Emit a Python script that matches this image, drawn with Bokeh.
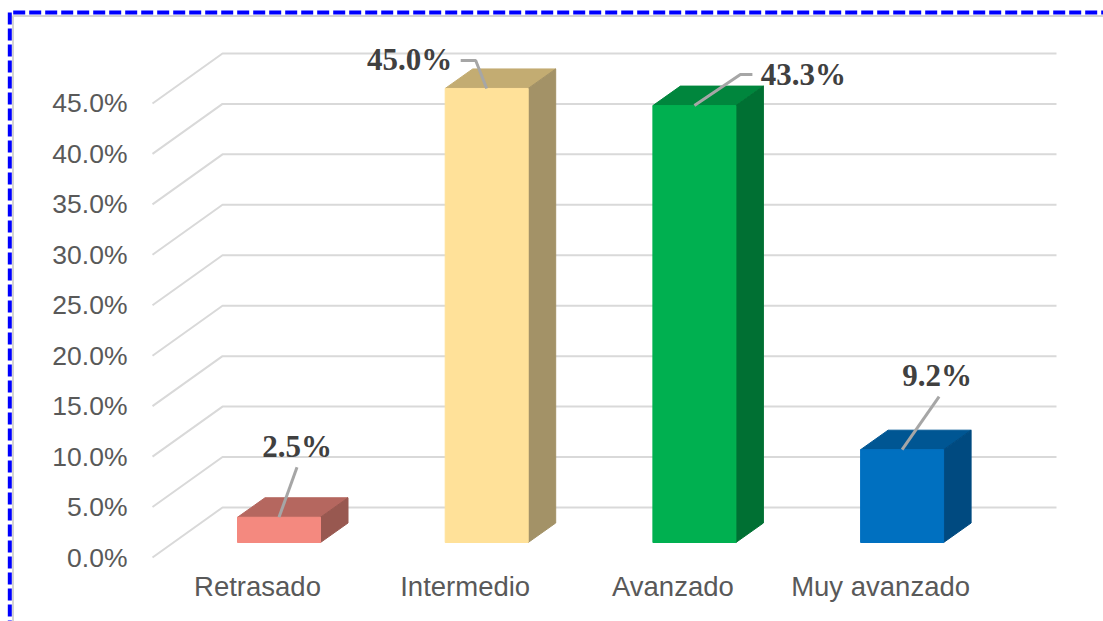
from bokeh.plotting import figure
from bokeh.embed import file_html
from bokeh.resources import INLINE
from bokeh.models import FixedTicker, PrintfTickFormatter, PolyAnnotation, Range1d
from bokeh.core.properties import value

categories = ["Retrasado", "Intermedio", "Avanzado", "Muy avanzado"]
percent = [2.5, 45.0, 43.3, 9.2]
labels = ["2.5%", "45.0%", "43.3%", "9.2%"]
y_ticks = [0, 5, 10, 15, 20, 25, 30, 35, 40, 45]
front = ["#f4897f", "#ffe199", "#00b050", "#0070c0"]
top = ["#b5675f", "#c3ac72", "#00863d", "#005693"]
side = ["#985850", "#a39267", "#007033", "#004a80"]

# geometry: pixels per data unit of the two scales
PX_X, PX_Y = 207.7, 10.09
WALL_DX, WALL_DY = 70 / PX_X, 50 / PX_Y
BAR_DX, BAR_DY = 27.5 / PX_X, 19.5 / PX_Y
BAR_SHIFT, BAR_HALF = 21.5 / PX_X, 41.5 / PX_X
FLOOR = 15 / PX_Y

W, H = 1103, 621
x_start, x_end = -257 / PX_X, (W - 257) / PX_X
y_start, y_end = (557 - H) / PX_Y, 557 / PX_Y
axis_x = (152 - 257) / PX_X
axis_y = (557 - 562) / PX_Y

p = figure(width=W, height=H, output_backend="svg", toolbar_location=None,
           x_range=Range1d(x_start, x_end), y_range=Range1d(y_start, y_end),
           min_border=0, background_fill_color="white", border_fill_color="white")
p.outline_line_color = None
p.grid.visible = False

for ax, size in ((p.xaxis[0], "27.5px"), (p.yaxis[0], "26.5px")):
    ax.axis_line_color = None
    ax.major_tick_line_color = None
    ax.minor_tick_line_color = None
    ax.major_label_text_font = "Liberation Sans"
    ax.major_label_text_color = "#595959"
    ax.major_label_text_font_size = size

p.yaxis[0].fixed_location = axis_x
p.xaxis[0].fixed_location = axis_y
p.yaxis[0].ticker = FixedTicker(ticks=y_ticks)
p.yaxis[0].formatter = PrintfTickFormatter(format="%.1f%%")
p.yaxis[0].major_label_standoff = 19
p.xaxis[0].ticker = FixedTicker(ticks=list(range(len(categories))))
p.xaxis[0].major_label_overrides = {i: c for i, c in enumerate(categories)}
p.xaxis[0].major_label_standoff = 2

# gridlines: floor-to-wall slant and back wall
wall_x = axis_x + WALL_DX
wall_end = (1056 - 257) / PX_X
p.multi_line([[axis_x, wall_x, wall_end] for _ in y_ticks],
             [[t, t + WALL_DY, t + WALL_DY] for t in y_ticks],
             line_color="#d9d9d9", line_width=2)

# 3D bars
for i, v in enumerate(percent):
    xl = i + BAR_SHIFT - BAR_HALF
    xr = i + BAR_SHIFT + BAR_HALF
    yb, yt = FLOOR, FLOOR + v
    p.patch([xl, xr, xr + BAR_DX, xl + BAR_DX], [yt, yt, yt + BAR_DY, yt + BAR_DY],
            fill_color=top[i], line_color=top[i], line_width=1)
    p.patch([xr, xr + BAR_DX, xr + BAR_DX, xr], [yb, yb + BAR_DY, yt + BAR_DY, yt],
            fill_color=side[i], line_color=side[i], line_width=1)
    p.quad(left=xl, right=xr, bottom=yb, top=yt, fill_color=front[i], line_color=front[i], line_width=1)

# leader lines: pixel offsets from each bar's top-front centre
leaders = [[(18, 50)], [(-11, 28), (-26, 28)], [(46, 31), (58, 31)], [(37, 53)]]
label_off = [(18, 71), (-77, 29), (109, 31), (35, 74)]
for i, v in enumerate(percent):
    bx, by = i + BAR_SHIFT, FLOOR + v
    xs = [bx] + [bx + dx / PX_X for dx, _ in leaders[i]]
    ys = [by] + [by + dy / PX_Y for _, dy in leaders[i]]
    p.line(xs, ys, line_color="#a6a6a6", line_width=3)
    p.text([bx + label_off[i][0] / PX_X], [by + label_off[i][1] / PX_Y], text=[labels[i]],
           text_font=value("Liberation Serif"), text_font_style="bold",
           text_font_size="31px", text_color="#404040",
           text_align="center", text_baseline="middle")

# page-level dashed frame (open to the right and bottom)
p.add_layout(PolyAnnotation(xs=[12.5, 12.5, 3000, 3000], ys=[H - 15.5, -3000, -3000, H - 15.5],
                            xs_units="screen", ys_units="screen", fill_alpha=0, line_alpha=1,
                            line_color="#d4d4d4", line_width=2))
p.add_layout(PolyAnnotation(xs=[9.3, 9.3, 3000, 3000], ys=[H - 12, -3000, -3000, H - 12],
                            xs_units="screen", ys_units="screen", fill_alpha=0, line_alpha=1,
                            line_color="#0000ff", line_width=4, line_dash="12 4"))

open("out.html", "w").write(file_html(p, INLINE))
